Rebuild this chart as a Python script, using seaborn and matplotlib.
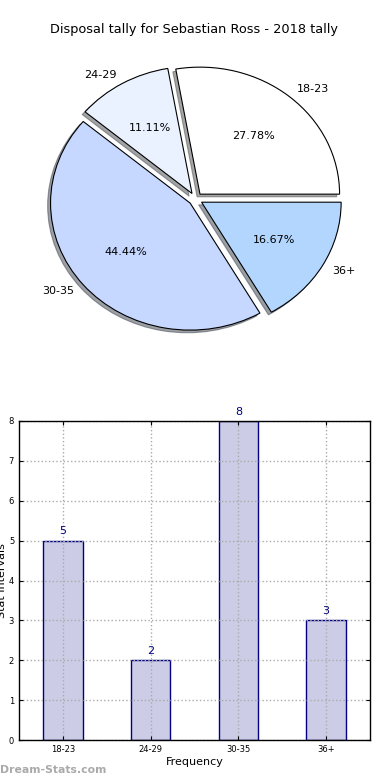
import seaborn as sns
import matplotlib
matplotlib.use('Agg')
import matplotlib.pyplot as plt
import pandas as pd

# data
categories = ['18-23', '24-29', '30-35', '36+']
counts = [5, 2, 8, 3]
pie_colors = ['#ffffff', '#eaf1ff', '#c6d8ff', '#b3d6ff']

df = pd.DataFrame({'interval': categories, 'count': counts})

fig = plt.figure(figsize=(3.9, 7.8), dpi=100)

# pie on top
ax1 = fig.add_axes([21 / 390, 0.5413, 349 / 390, 0.4071])
ax1.pie(
    counts,
    labels=categories,
    colors=pie_colors,
    autopct='%.2f%%',
    explode=[0.05] * len(counts),
    shadow={'ox': -0.015, 'oy': -0.015, 'shade': 0.7},
    startangle=0,
    labeldistance=1.08,
    wedgeprops={'edgecolor': 'black', 'linewidth': 0.8},
    textprops={'fontsize': 8},
)
ax1.set_aspect('auto')
ax1.set_xlim(-1.25, 1.25)
ax1.set_ylim(-1.25, 1.25)
fig.text(194 / 390, 1 - 30 / 780, 'Disposal tally for Sebastian Ross - 2018 tally',
         ha='center', va='center', fontsize=9.3)

# bar chart below
ax2 = fig.add_axes([19 / 390, 40 / 780, 351 / 390, 319 / 780])
sns.barplot(
    data=df, x='interval', y='count', ax=ax2,
    color='#ccccE6', saturation=1, width=0.45,
    edgecolor='#000080', linewidth=1,
)
ax2.set_xlim(-0.5, 3.5)
ax2.set_ylim(0, 8)
ax2.grid(True, linestyle=':', color='#aaaaaa', linewidth=1)
ax2.set_axisbelow(False)
ax2.tick_params(direction='in', labelsize=6, length=3, top=True, right=True)
for s in ax2.spines.values():
    s.set_linewidth(1)
    s.set_zorder(5)
for i, v in enumerate(counts):
    ax2.annotate(str(v), (i, v), xytext=(0, 3), textcoords='offset points',
                 ha='center', va='bottom', color='#000080', fontsize=8)
ax2.set_xlabel('Frequency', fontsize=8, labelpad=2)
ax2.set_ylabel('Stat Intervals', fontsize=8)
ax2.yaxis.set_label_coords(-0.035, 0.5)

fig.text(0.0, 1 - 770 / 780, 'Dream-Stats.com', color='#aaaaaa',
         fontsize=7.8, fontweight='bold', ha='left', va='center')

fig.savefig('out.png', dpi=100)
